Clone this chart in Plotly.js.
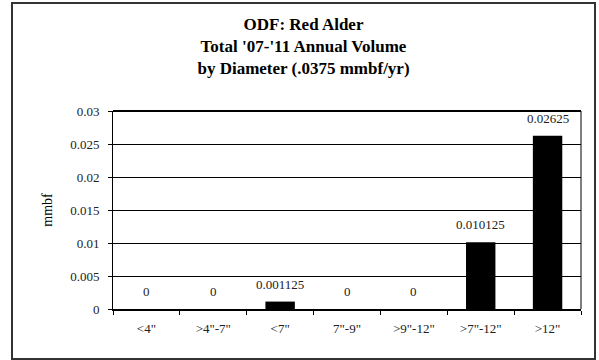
<!DOCTYPE html>
<html>
<head>
<meta charset="utf-8">
<script src="https://cdn.plot.ly/plotly-3.0.1.min.js"></script>
<style>html,body{margin:0;padding:0;background:#fff;}#chart{width:599px;height:360px;}</style>
</head>
<body>
<div id="chart"></div>
<script>
const categories = ['<4"', '>4"-7"', '<7"', '7"-9"', '>9"-12"', '>7"-12"', '>12"'];
const volumes = [0, 0, 0.001125, 0, 0, 0.010125, 0.02625];
const valueLabels = ['0', '0', '0.001125', '0', '0', '0.010125', '0.02625'];
const yTickValues = [0, 0.005, 0.01, 0.015, 0.02, 0.025, 0.03];
const yTickLabels = ['0', '0.005', '0.01', '0.015', '0.02', '0.025', '0.03'];

const serif = 'Liberation Serif, Times New Roman, serif';

const annotations = categories.map((c, i) => ({
  x: c, y: volumes[i], xref: 'x', yref: 'y',
  text: valueLabels[i], showarrow: false,
  yanchor: 'bottom', yshift: 8,
  font: {family: serif, size: 13, color: '#222'}
}));

const shapes = [{
  type: 'rect', xref: 'paper', yref: 'paper',
  x0: (12 - 113) / 468, x1: (595 - 113) / 468,
  y0: (309 - 359) / 198, y1: (309 - 3) / 198,
  line: {color: '#333', width: 2}, fillcolor: 'rgba(0,0,0,0)', layer: 'below'
}];

const data = [{
  type: 'bar', x: categories, y: volumes,
  marker: {color: '#000', line: {width: 0}},
  hoverinfo: 'x+y'
}];

const layout = {
  width: 599, height: 360,
  margin: {l: 113, r: 18, t: 111, b: 51, pad: 0},
  paper_bgcolor: '#fff', plot_bgcolor: '#fff',
  showlegend: false,
  bargap: 0.56,
  title: {
    text: "ODF: Red Alder<br>Total '07-'11 Annual Volume<br>by Diameter (.0375 mmbf/yr)",
    font: {family: serif, size: 17, color: '#000', weight: 'bold'},
    x: 303.5 / 599, xanchor: 'center', xref: 'container',
    y: 1 - 30 / 360, yanchor: 'middle', yref: 'container'
  },
  xaxis: {
    type: 'category',
    showline: true, linecolor: '#000', linewidth: 2,
    mirror: false,
    ticks: 'outside', ticklen: 4, tickcolor: '#000', tickwidth: 1,
    tickson: 'boundaries',
    showgrid: false,
    tickfont: {family: serif, size: 13, color: '#222'},
    ticklabelstandoff: 6
  },
  yaxis: {
    range: [0, 0.03],
    tickvals: yTickValues, ticktext: yTickLabels,
    showline: true, linecolor: '#000', linewidth: 1,
    ticks: 'outside', ticklen: 4, tickcolor: '#000',
    showgrid: true, gridcolor: '#000', gridwidth: 1,
    zeroline: false,
    tickfont: {family: serif, size: 13, color: '#222'},
    ticklabelstandoff: 6,
    title: {text: 'mmbf', font: {family: serif, size: 14, color: '#000'}, standoff: 14}
  },
  annotations: annotations,
  shapes: shapes.concat([{
    type: 'line', xref: 'paper', yref: 'paper', x0: 1, x1: 1, y0: 0, y1: 1,
    line: {color: '#000', width: 1}
  }, {
    type: 'line', xref: 'paper', yref: 'paper', x0: 0, x1: 1, y0: 1, y1: 1,
    line: {color: '#000', width: 2}
  }])
};

Plotly.newPlot('chart', data, layout, {displayModeBar: false, staticPlot: true});
</script>
</body>
</html>
